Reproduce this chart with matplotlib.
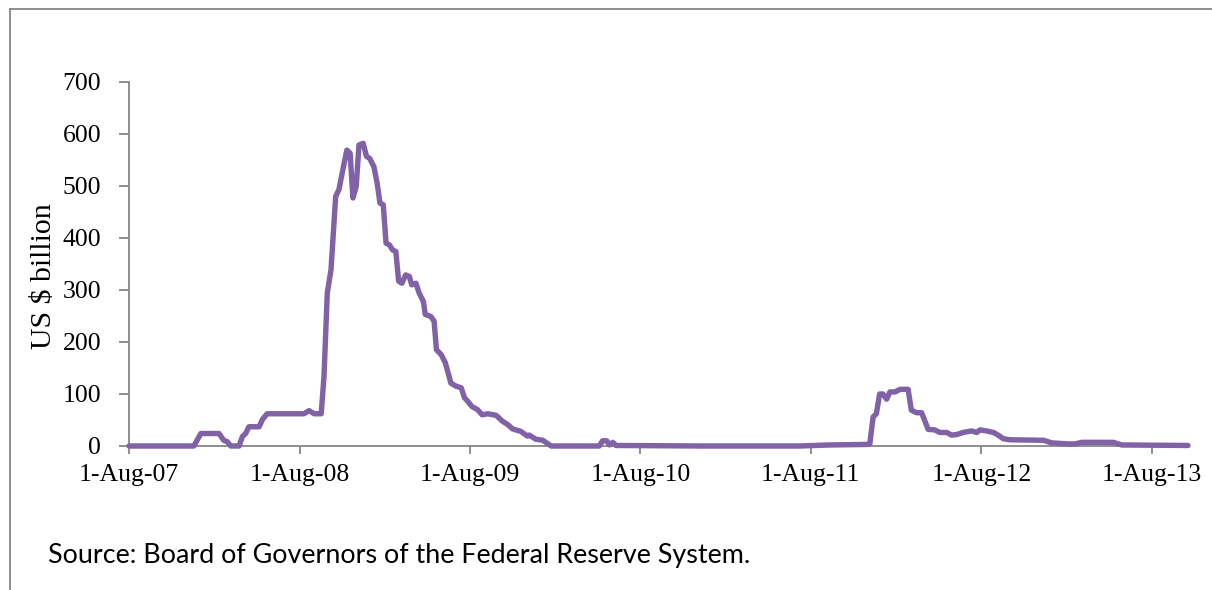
import matplotlib
matplotlib.use("Agg")
import matplotlib.pyplot as plt
import matplotlib.dates as mdates
from matplotlib.lines import Line2D
import pandas as pd

# Central bank liquidity swaps outstanding (US$ billion)
dates = [
    "2007-08-01", "2007-12-18", "2008-01-02", "2008-02-10", "2008-02-20", "2008-02-28",
    "2008-03-06", "2008-03-24", "2008-03-31", "2008-04-07", "2008-04-14", "2008-05-06",
    "2008-05-13", "2008-05-23", "2008-08-10", "2008-08-21", "2008-09-01", "2008-09-16",
    "2008-09-22", "2008-09-29", "2008-10-07", "2008-10-17", "2008-10-24", "2008-10-31",
    "2008-11-10", "2008-11-17", "2008-11-23", "2008-11-30", "2008-12-06", "2008-12-15",
    "2008-12-22", "2008-12-29", "2009-01-07", "2009-01-14", "2009-01-20", "2009-01-27",
    "2009-02-02", "2009-02-09", "2009-02-16", "2009-02-23", "2009-03-01", "2009-03-08",
    "2009-03-16", "2009-03-24", "2009-03-29", "2009-04-07", "2009-04-14", "2009-04-23",
    "2009-04-27", "2009-05-09", "2009-05-16", "2009-05-21", "2009-05-31", "2009-06-09",
    "2009-06-14", "2009-06-21", "2009-07-02", "2009-07-13", "2009-07-20", "2009-07-27",
    "2009-08-05", "2009-08-17", "2009-08-27", "2009-09-08", "2009-09-26", "2009-10-09",
    "2009-10-21", "2009-10-31", "2009-11-18", "2009-12-02", "2009-12-06", "2009-12-20",
    "2010-01-04", "2010-01-22", "2010-05-05", "2010-05-12", "2010-05-21", "2010-05-27",
    "2010-06-03", "2010-06-10", "2010-06-17", "2010-12-06", "2011-07-09", "2011-09-11",
    "2011-11-29", "2011-12-06", "2011-12-13", "2011-12-20", "2011-12-27", "2012-01-03",
    "2012-01-11", "2012-01-18", "2012-01-29", "2012-02-09", "2012-02-26", "2012-03-04",
    "2012-03-15", "2012-03-26", "2012-04-09", "2012-04-23", "2012-05-04", "2012-05-19",
    "2012-05-29", "2012-06-09", "2012-06-23", "2012-07-11", "2012-07-22", "2012-07-29",
    "2012-08-12", "2012-08-27", "2012-09-06", "2012-09-17", "2012-10-01", "2012-12-12",
    "2012-12-30", "2013-02-03", "2013-02-18", "2013-03-04", "2013-05-11", "2013-05-29",
    "2013-10-18",
]
values = [
    0, 0, 24, 24, 11, 8,
    0, 0, 18, 24, 37, 37,
    51, 62, 62, 68, 62, 62,
    134, 294, 339, 480, 493, 525,
    569, 563, 477, 499, 579, 582,
    557, 553, 537, 505, 467, 464,
    390, 387, 377, 374, 317, 313,
    329, 326, 310, 313, 294, 278,
    253, 249, 240, 185, 176, 160,
    144, 121, 115, 112, 93, 86,
    76, 70, 60, 62, 59, 48,
    41, 33, 28, 19, 21, 13,
    11, 0, 0, 10, 10, 2,
    7, 1, 1, 0, 0, 2,
    3, 4, 56, 62, 100, 100,
    90, 104, 104, 109, 109, 69,
    64, 64, 32, 31, 26, 26,
    21, 22, 26, 29, 26, 31,
    29, 26, 21, 14, 12, 11,
    6, 4, 4, 7, 7, 2,
    1,
]
y_ticks = [0, 100, 200, 300, 400, 500, 600, 700]
x_tick_dates = ["2007-08-01", "2008-08-01", "2009-08-01", "2010-08-01",
                "2011-08-01", "2012-08-01", "2013-08-01"]
y_label = "US $ billion"
source_text = "Source: Board of Governors of the Federal Reserve System."

W, H = 1212, 590
fig = plt.figure(figsize=(W / 100, H / 100), dpi=100)
fig.patch.set_facecolor("white")

x = pd.to_datetime(dates)
xt = pd.to_datetime(x_tick_dates)

ax = fig.add_axes([129 / W, 1 - 446 / H, (1188 - 129) / W, (446 - 82) / H])
ax.plot(x, values, color="#8262A6", lw=3.9, solid_joinstyle="round",
        solid_capstyle="round", clip_on=False, zorder=3)

ax.set_ylim(0, 700)
ax.set_xlim(pd.Timestamp("2007-08-01"), x[-1])
ax.set_yticks(y_ticks)
ax.set_xticks(xt)
ax.xaxis.set_major_formatter(mdates.DateFormatter("1-%b-%y"))

grey = "#868686"
for s in ["top", "right"]:
    ax.spines[s].set_visible(False)
for s in ["left", "bottom"]:
    ax.spines[s].set_color(grey)
    ax.spines[s].set_linewidth(1.3)

serif = ["Liberation Serif", "DejaVu Serif"]
ax.tick_params(axis="y", direction="out", length=7, width=1.3, color=grey,
               pad=13, labelsize=18.5)
ax.tick_params(axis="x", direction="out", length=6, width=1.3, color=grey,
               pad=7, labelsize=18.5)
for lab in ax.get_xticklabels() + ax.get_yticklabels():
    lab.set_family(serif)

fig.text(44 / W, 1 - 276 / H, y_label, rotation=90, ha="center", va="center",
         fontsize=21.5, family=serif)

t = fig.text(48 / W, 1 - 563 / H, source_text, ha="left", va="baseline",
             fontsize=18, family=["Lato", "DejaVu Sans"])
fig.canvas.draw()
bb = t.get_window_extent()
t.set_fontsize(18 * 702 / bb.width)

# outer frame (left and top edges visible)
fx = 9.5 / W
fy = 1 - 8.5 / H
fig.add_artist(Line2D([fx, fx], [0, fy], transform=fig.transFigure, color="#878787", lw=1.3))
fig.add_artist(Line2D([fx, 1], [fy, fy], transform=fig.transFigure, color="#878787", lw=1.3))

fig.savefig("out.png", dpi=100, facecolor="white")
